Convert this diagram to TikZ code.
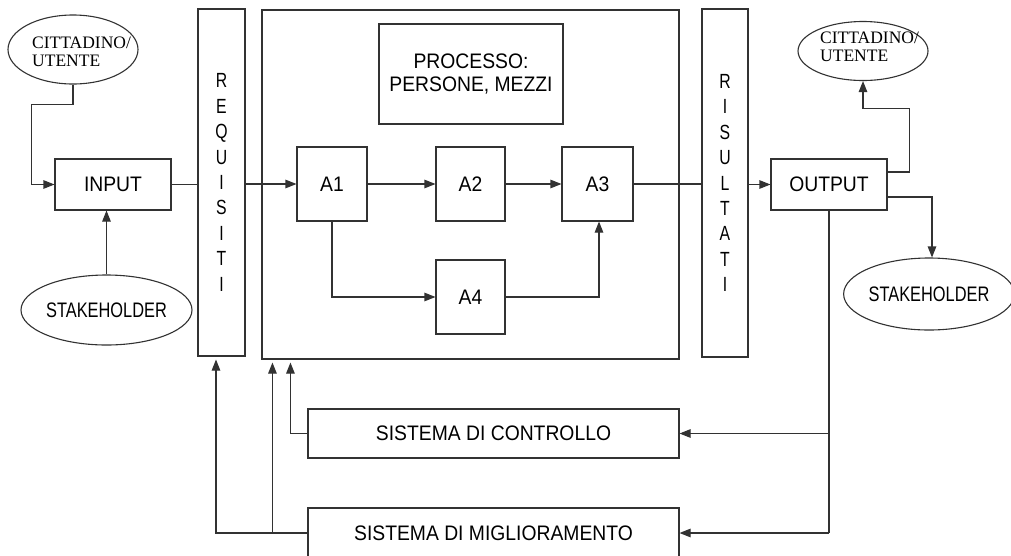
\documentclass[tikz,border=0pt]{standalone}
\usepackage{fontspec}
\setmainfont{Liberation Sans}
\newfontfamily\nsans[FakeStretch=0.92]{Liberation Sans}
\newfontfamily\stk[FakeStretch=0.78]{Liberation Sans}
\newfontfamily\vsans[FakeStretch=0.77]{Liberation Sans}
\newfontfamily\ser{Liberation Serif}
\usetikzlibrary{arrows.meta,shapes.geometric,calc}
\definecolor{lc}{RGB}{50,50,50}
\tikzset{
 box/.style={draw=lc, line width=1.1pt, rectangle, inner sep=0pt, align=center, font=\nsans\fontsize{21}{23.5}\selectfont},
 vbox/.style={draw=lc, line width=1.1pt, rectangle, inner sep=0pt, align=center, font=\vsans\fontsize{20.5}{25.4}\selectfont},
 ell/.style={draw=lc, line width=1.1pt, ellipse, inner sep=0pt},
 lbl/.style={inner sep=0pt, anchor=west, align=left, font=\ser\fontsize{17.5}{18}\selectfont},
 con/.style={draw=lc, line width=1.1pt},
 arr/.style={con, -{Triangle[length=11pt,width=8.5pt]}}
}
\begin{document}
\begin{tikzpicture}[x=1pt, y=-1pt]
\fill[white] (0,0) rectangle (1011,555);
\useasboundingbox (0,0) rectangle (1011,555);

% left side
\node[ell, minimum width=130, minimum height=69] (cit1) at (73,49.5) {};
\node[lbl] (cit1t) at (32,52) {CITTADINO/\\UTENTE};
\node[ell, minimum width=171, minimum height=70, font=\stk\fontsize{21}{23}\selectfont] (stk1) at (106.5,310) {STAKEHOLDER};
\node[box, minimum width=116, minimum height=51] (inp) at (113,184.5) {INPUT};
\node[vbox, minimum width=47, minimum height=347] (req) at (221.5,182.5) {R\\E\\Q\\U\\I\\S\\I\\T\\I};

% process
\node[box, minimum width=417, minimum height=349] (proc) at (470.5,184.5) {};
\node[box, minimum width=184, minimum height=100] (pm) at (471,74) {PROCESSO:\\PERSONE, MEZZI};
\node[box, minimum width=70, minimum height=74] (a1) at (332,184) {A1};
\node[box, minimum width=69, minimum height=74] (a2) at (470.5,184) {A2};
\node[box, minimum width=71, minimum height=74] (a3) at (597.5,184) {A3};
\node[box, minimum width=69, minimum height=74] (a4) at (470.5,297) {A4};

% right side
\node[vbox, minimum width=46, minimum height=348] (ris) at (725,183) {R\\I\\S\\U\\L\\T\\A\\T\\I};
\node[box, minimum width=116, minimum height=51] (out) at (829,184.5) {OUTPUT};
\node[ell, minimum width=130, minimum height=59] (cit2) at (863,51) {};
\node[lbl] (cit2t) at (820,47) {CITTADINO/\\UTENTE};
\node[ell, minimum width=164, minimum height=72, font=\stk\fontsize{21}{23}\selectfont] (stk2) at (929,294) {STAKEHOLDER};

% bottom systems
\node[box, minimum width=371, minimum height=49] (ctrl) at (493.5,433.5) {SISTEMA DI CONTROLLO};
\node[box, minimum width=371, minimum height=50] (mig) at (493.5,533) {SISTEMA DI MIGLIORAMENTO};

% connectors left
\coordinate (c1) at ($(inp.west)+(-23,0)$);
\draw[arr] (cit1.south) -- ++(0,20) -| (c1) -- (inp.west);
\draw[arr] (stk1.north) -- (stk1.north |- inp.south);
\draw[con] (inp.east) -- (inp.east -| req.west);
\draw[arr] (req.east |- a1.west) -- (a1.west);

% process internals
\draw[arr] (a1.east) -- (a2.west);
\draw[arr] (a2.east) -- (a3.west);
\draw[arr] (a1.south) |- (a4.west);
\coordinate (a3b) at ($(a3.south)+(1.5,0)$);
\draw[arr] (a4.east) -| (a3b);
\draw[con] (a3.east) -- (a3.east -| ris.west);
\draw[arr] (ris.east |- out.west) -- (out.west);

% output connectors
\coordinate (o1) at ($(out.east)+(0,-12.5)$);
\coordinate (o2) at ($(cit2.south)+(0,27.5)$);
\draw[arr] (o1) -- ++(22,0) |- (o2) -- (cit2.south);
\coordinate (o3) at ($(out.east)+(0,12.5)$);
\coordinate (s2) at ($(stk2.north)+(3,0)$);
\draw[arr] (o3) -| (s2);
\draw[con] (out.south) -- (out.south |- mig.east);
\draw[arr] (out.south |- ctrl.east) -- (ctrl.east);
\draw[arr] (out.south |- mig.east) -- (mig.east);

% feedback
\coordinate (p1) at ($(proc.south west)+(29,3)$);
\coordinate (p2) at ($(proc.south west)+(11,3)$);
\coordinate (r1) at ($(req.south)+(-5.5,3)$);
\draw[arr] (ctrl.west) -| (p1);
\draw[arr] (mig.west) -| (r1);
\draw[arr] (p2 |- mig.west) -- (p2);
\end{tikzpicture}
\end{document}
